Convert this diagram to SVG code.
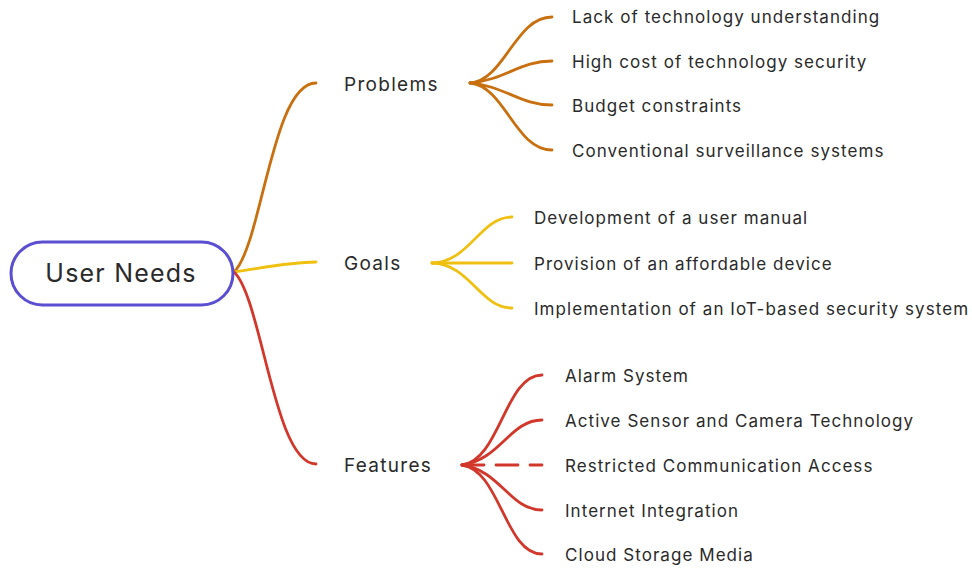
<svg xmlns="http://www.w3.org/2000/svg" width="972" height="569" viewBox="0 0 972 569">
<style>
.t{font-family:Inter,"Noto Sans","Liberation Sans",sans-serif;fill:#2a2a2a}
.l1{font-size:19px;letter-spacing:1.3px}
.l2{font-size:17px;letter-spacing:1.05px}
.c{fill:none;stroke-width:2.8;stroke-linecap:round}
.o{stroke:#c8700f}
.y{stroke:#f0c010}
.r{stroke:#d2372b}
</style>
<rect width="972" height="569" fill="#fff"/>
<g id="connectors">
<path class="c o" d="M234,272 C262,245 272,83 316,83"/>
<path class="c y" d="M234,272 C262,268 290,262 316,262"/>
<path class="c r" d="M234,272 C262,298 274,464 316,464"/>
<path class="c o" d="M470,83 C505,80 515,17 552,17"/>
<path class="c o" d="M470,83 C505,80 520,61 552,61"/>
<path class="c o" d="M470,83 C505,86 520,105 552,105"/>
<path class="c o" d="M470,83 C505,86 515,150 552,150"/>
<path class="c y" d="M432,263 C470,262 480,217 512,217"/>
<path class="c y" d="M432,263 L512,263"/>
<path class="c y" d="M432,263 C470,264 480,308 512,308"/>
<path class="c r" d="M462,465 C500,460 505,375 542,375"/>
<path class="c r" d="M462,465 C500,460 510,420 542,420"/>
<path class="c r" d="M462,465 L542,465" stroke-dasharray="22,12"/>
<path class="c r" d="M462,465 C500,470 510,510 542,510"/>
<path class="c r" d="M462,465 C500,470 505,554 542,554"/>
</g>
<g id="root">
<rect x="11" y="242" width="222" height="63" rx="31.5" fill="#fff" stroke="#5b4fd1" stroke-width="3"/>
<text class="t" x="121" y="282" font-size="25" letter-spacing="1.2" text-anchor="middle" fill="#1a1a1a">User Needs</text>
</g>
<g id="problems"><text class="t l1" x="344" y="91">Problems</text></g>
<g id="goals"><text class="t l1" x="344" y="270">Goals</text></g>
<g id="features"><text class="t l1" x="344" y="472">Features</text></g>
<g id="p1"><text class="t l2" x="572" y="23">Lack of technology understanding</text></g>
<g id="p2"><text class="t l2" x="572" y="68">High cost of technology security</text></g>
<g id="p3"><text class="t l2" x="572" y="112">Budget constraints</text></g>
<g id="p4"><text class="t l2" x="572" y="157">Conventional surveillance systems</text></g>
<g id="g1"><text class="t l2" x="534" y="224">Development of a user manual</text></g>
<g id="g2"><text class="t l2" x="534" y="270">Provision of an affordable device</text></g>
<g id="g3"><text class="t l2" x="534" y="315">Implementation of an IoT-based security system</text></g>
<g id="f1"><text class="t l2" x="565" y="382">Alarm System</text></g>
<g id="f2"><text class="t l2" x="565" y="427">Active Sensor and Camera Technology</text></g>
<g id="f3"><text class="t l2" x="565" y="472">Restricted Communication Access</text></g>
<g id="f4"><text class="t l2" x="565" y="517">Internet Integration</text></g>
<g id="f5"><text class="t l2" x="565" y="561">Cloud Storage Media</text></g>
</svg>
